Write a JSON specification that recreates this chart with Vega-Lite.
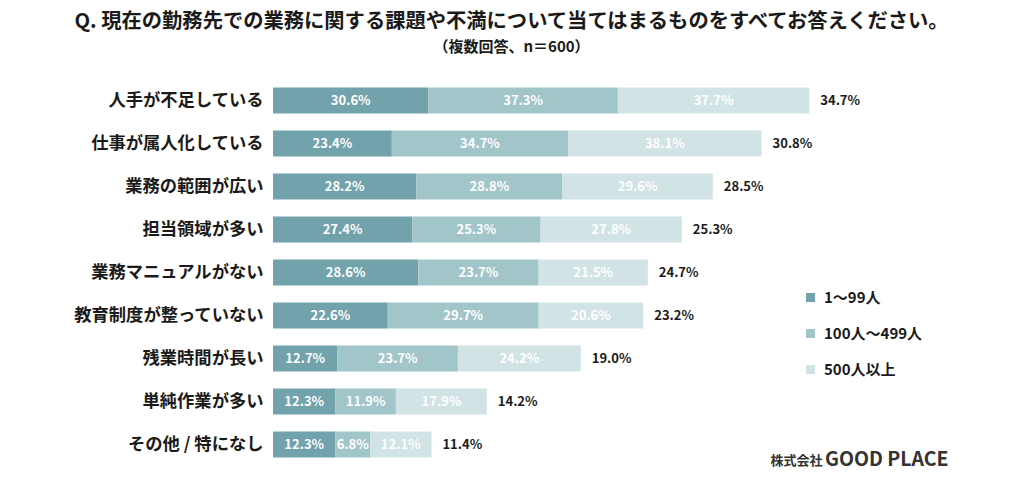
{
  "$schema": "https://vega.github.io/schema/vega-lite/v6.json",
  "autosize": {"type": "none"},
  "padding": {"left": 273, "top": 79, "right": 40, "bottom": 23},
  "width": 711,
  "height": 387,
  "background": "white",
  "config": {"font": "Noto Sans CJK JP", "view": {"stroke": null}},
  "title": {
    "text": "Q. 現在の勤務先での業務に関する課題や不満について当てはまるものをすべてお答えください。",
    "subtitle": "（複数回答、n＝600）",
    "anchor": "middle",
    "frame": "group",
    "dx": -117,
    "offset": 24,
    "fontSize": 20.3,
    "fontWeight": "bold",
    "color": "#1a1a1a",
    "subtitleFontSize": 15,
    "subtitleFontWeight": "bold",
    "subtitleColor": "#1a1a1a",
    "subtitlePadding": 8,
    "font": "Noto Sans CJK JP",
    "subtitleFont": "Noto Sans CJK JP"
  },
  "datasets": {
    "seg": [
      {"category": "人手が不足している", "group": "1～99人", "k": 1, "value": 30.6},
      {"category": "人手が不足している", "group": "100人～499人", "k": 2, "value": 37.3},
      {"category": "人手が不足している", "group": "500人以上", "k": 3, "value": 37.7},
      {"category": "仕事が属人化している", "group": "1～99人", "k": 1, "value": 23.4},
      {"category": "仕事が属人化している", "group": "100人～499人", "k": 2, "value": 34.7},
      {"category": "仕事が属人化している", "group": "500人以上", "k": 3, "value": 38.1},
      {"category": "業務の範囲が広い", "group": "1～99人", "k": 1, "value": 28.2},
      {"category": "業務の範囲が広い", "group": "100人～499人", "k": 2, "value": 28.8},
      {"category": "業務の範囲が広い", "group": "500人以上", "k": 3, "value": 29.6},
      {"category": "担当領域が多い", "group": "1～99人", "k": 1, "value": 27.4},
      {"category": "担当領域が多い", "group": "100人～499人", "k": 2, "value": 25.3},
      {"category": "担当領域が多い", "group": "500人以上", "k": 3, "value": 27.8},
      {"category": "業務マニュアルがない", "group": "1～99人", "k": 1, "value": 28.6},
      {"category": "業務マニュアルがない", "group": "100人～499人", "k": 2, "value": 23.7},
      {"category": "業務マニュアルがない", "group": "500人以上", "k": 3, "value": 21.5},
      {"category": "教育制度が整っていない", "group": "1～99人", "k": 1, "value": 22.6},
      {"category": "教育制度が整っていない", "group": "100人～499人", "k": 2, "value": 29.7},
      {"category": "教育制度が整っていない", "group": "500人以上", "k": 3, "value": 20.6},
      {"category": "残業時間が長い", "group": "1～99人", "k": 1, "value": 12.7},
      {"category": "残業時間が長い", "group": "100人～499人", "k": 2, "value": 23.7},
      {"category": "残業時間が長い", "group": "500人以上", "k": 3, "value": 24.2},
      {"category": "単純作業が多い", "group": "1～99人", "k": 1, "value": 12.3},
      {"category": "単純作業が多い", "group": "100人～499人", "k": 2, "value": 11.9},
      {"category": "単純作業が多い", "group": "500人以上", "k": 3, "value": 17.9},
      {"category": "その他 / 特になし", "group": "1～99人", "k": 1, "value": 12.3},
      {"category": "その他 / 特になし", "group": "100人～499人", "k": 2, "value": 6.8},
      {"category": "その他 / 特になし", "group": "500人以上", "k": 3, "value": 12.1}
    ],
    "overall": [
      {"category": "人手が不足している", "overall": 34.7},
      {"category": "仕事が属人化している", "overall": 30.8},
      {"category": "業務の範囲が広い", "overall": 28.5},
      {"category": "担当領域が多い", "overall": 25.3},
      {"category": "業務マニュアルがない", "overall": 24.7},
      {"category": "教育制度が整っていない", "overall": 23.2},
      {"category": "残業時間が長い", "overall": 19.0},
      {"category": "単純作業が多い", "overall": 14.2},
      {"category": "その他 / 特になし", "overall": 11.4}
    ]
  },
  "encoding": {
    "y": {
      "field": "category",
      "type": "nominal",
      "sort": ["人手が不足している", "仕事が属人化している", "業務の範囲が広い", "担当領域が多い", "業務マニュアルがない", "教育制度が整っていない", "残業時間が長い", "単純作業が多い", "その他 / 特になし"],
      "scale": {"paddingInner": 0.4, "paddingOuter": 0.2},
      "axis": {
        "title": "株式会社",
        "titleAngle": 0,
        "titleAlign": "right",
        "titleBaseline": "middle",
        "titleX": 549,
        "titleY": 381,
        "titleFontSize": 13,
        "titleFontWeight": "bold",
        "titleColor": "#333333",
        "domain": false,
        "ticks": false,
        "labelPadding": 10,
        "labelFontSize": 17.3,
        "labelFontWeight": "bold",
        "labelColor": "#1a1a1a",
        "labelLimit": 300
      }
    }
  },
  "layer": [
    {
      "data": {"name": "seg"},
      "transform": [
        {"stack": "value", "groupby": ["category"], "sort": [{"field": "k", "order": "ascending"}], "as": ["x0", "x1"]}
      ],
      "mark": {"type": "bar"},
      "encoding": {
        "x": {
          "field": "x0",
          "type": "quantitative",
          "scale": {"domain": [0, 140], "nice": false},
          "axis": {
            "title": "GOOD PLACE",
            "titleAnchor": "start",
            "titleAlign": "right",
            "titleBaseline": "middle",
            "titleX": 675,
            "titleY": -7,
            "titleFontSize": 19.5,
            "titleFontWeight": "bold",
            "titleColor": "#333333",
            "labels": false,
            "ticks": false,
            "domain": false,
            "grid": false
          }
        },
        "x2": {"field": "x1"},
        "color": {
          "field": "group",
          "type": "nominal",
          "scale": {"domain": ["1～99人", "100人～499人", "500人以上"], "range": ["#72a3ac", "#a2c5c9", "#d1e3e5"]},
          "legend": {
            "title": null,
            "orient": "none",
            "legendX": 530,
            "legendY": 211,
            "padding": 0,
            "symbolType": "square",
            "symbolSize": 81,
            "symbolStrokeWidth": 0,
            "labelFontSize": 15,
            "labelFontWeight": "bold",
            "labelColor": "#1a1a1a",
            "labelOffset": 6,
            "rowPadding": 20
          }
        }
      }
    },
    {
      "data": {"name": "seg"},
      "transform": [
        {"stack": "value", "groupby": ["category"], "sort": [{"field": "k", "order": "ascending"}], "as": ["x0", "x1"]},
        {"calculate": "(datum.x0 + datum.x1) / 2", "as": "mid"},
        {"calculate": "format(datum.value, '.1f') + '%'", "as": "label"}
      ],
      "mark": {"type": "text", "color": "white", "fontSize": 13, "fontWeight": "bold", "align": "center", "baseline": "middle"},
      "encoding": {
        "x": {"field": "mid", "type": "quantitative"},
        "text": {"field": "label"}
      }
    },
    {
      "data": {"name": "seg"},
      "transform": [
        {"aggregate": [{"op": "sum", "field": "value", "as": "total"}], "groupby": ["category"]},
        {"lookup": "category", "from": {"data": {"name": "overall"}, "key": "category", "fields": ["overall"]}},
        {"calculate": "format(datum.overall, '.1f') + '%'", "as": "label"}
      ],
      "mark": {"type": "text", "color": "#1a1a1a", "fontSize": 13, "fontWeight": "bold", "align": "left", "baseline": "middle", "dx": 11},
      "encoding": {
        "x": {"field": "total", "type": "quantitative"},
        "text": {"field": "label"}
      }
    }
  ]
}
